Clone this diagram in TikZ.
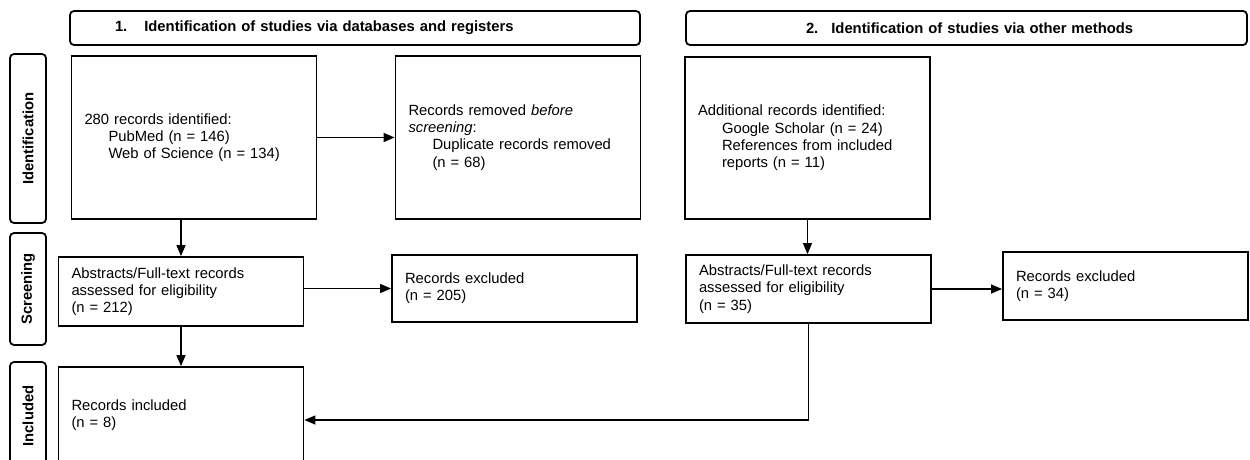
\documentclass[tikz,border=0pt]{standalone}
\usepackage{fontspec}
\setmainfont{Liberation Sans}
\usepackage{tikz}
\usetikzlibrary{positioning,arrows.meta}

\newcommand{\indline}{\hspace*{24pt}}

\begin{document}
\begin{tikzpicture}[
  x=1pt, y=-1pt,
  every node/.style={font=\fontsize{14.8}{17.3}\selectfont},
  box/.style={draw, line width=1.8pt, align=left, text width=219pt,
              inner xsep=13pt, inner ysep=0pt},
  header/.style={draw, line width=1.8pt, rounded corners=4pt, align=left,
                 inner xsep=0pt, inner ysep=0pt, minimum height=34pt,
                 font=\fontsize{14.8}{17.3}\selectfont\bfseries},
  phase/.style={draw, line width=1.8pt, rounded corners=4pt, rotate=90,
                inner sep=0pt, minimum height=36pt,
                font=\fontsize{14.8}{17.3}\selectfont\bfseries},
  flow/.style={-{Triangle[length=11pt,width=9pt]}, line width=1.3pt},
]
\useasboundingbox (0,0) rectangle (1250,459);
\clip (0,0) rectangle (1250,459);

% column headers
\node[header, text width=570pt] (head1) at (355,28)
  {\hspace*{45pt}1.\hspace{17pt}Identification of studies via databases and registers};
\node[header, text width=561pt] (head2) at (966.5,28)
  {\hspace*{120pt}2.\hspace{13pt}Identification of studies via other methods};

% phase labels
\node[phase, minimum width=169pt] (ident)  at (28,138.5) {Identification};
\node[phase, minimum width=112pt] (screen) at (28,289)   {Screening};
\node[phase, minimum width=108pt] (incl)   at (28,416)   {Included};

% databases and registers
\node[box, minimum height=163pt] (found) at (194,137.5)
  {280 records identified:\\
   \indline PubMed (n = 146)\\
   \indline Web of Science (n = 134)};
\node[box, minimum height=163pt] (dupes) at (518,137.5)
  {Records removed \textit{before}\\
   \textit{screening}:\\
   \indline Duplicate records removed\\
   \indline (n = 68)};
\node[box, minimum height=69pt] (assess) at (181,291.5)
  {Abstracts/Full-text records\\assessed for eligibility\\(n = 212)};
\node[box, minimum height=67pt] (excl) at (514.5,288.5)
  {Records excluded\\(n = 205)};
\node[box, minimum height=96pt] (final) at (181,415)
  {Records included\\(n = 8)};

% other methods
\node[box, minimum height=162pt] (extra) at (807.5,138)
  {Additional records identified:\\
   \indline Google Scholar (n = 24)\\
   \indline References from included\\
   \indline reports (n = 11)};
\node[box, minimum height=68pt] (assessb) at (808.5,289)
  {Abstracts/Full-text records\\assessed for eligibility\\(n = 35)};
\node[box, minimum height=68pt] (exclb) at (1125.5,286)
  {Records excluded\\(n = 34)};

\draw[flow] (found) -- (dupes);
\draw[flow] (found.south -| assess) -- (assess.north);
\draw[flow] (assess.east |- excl.west) -- (excl.west);
\draw[flow] (assess) -- (final);
\draw[flow] (extra.south) -- (extra.south |- assessb.north);
\draw[flow] (assessb.east) -- (assessb.east -| exclb.west);
\draw[flow] (assessb.south) |- ([yshift=-5pt]final.east);
\end{tikzpicture}
\end{document}
